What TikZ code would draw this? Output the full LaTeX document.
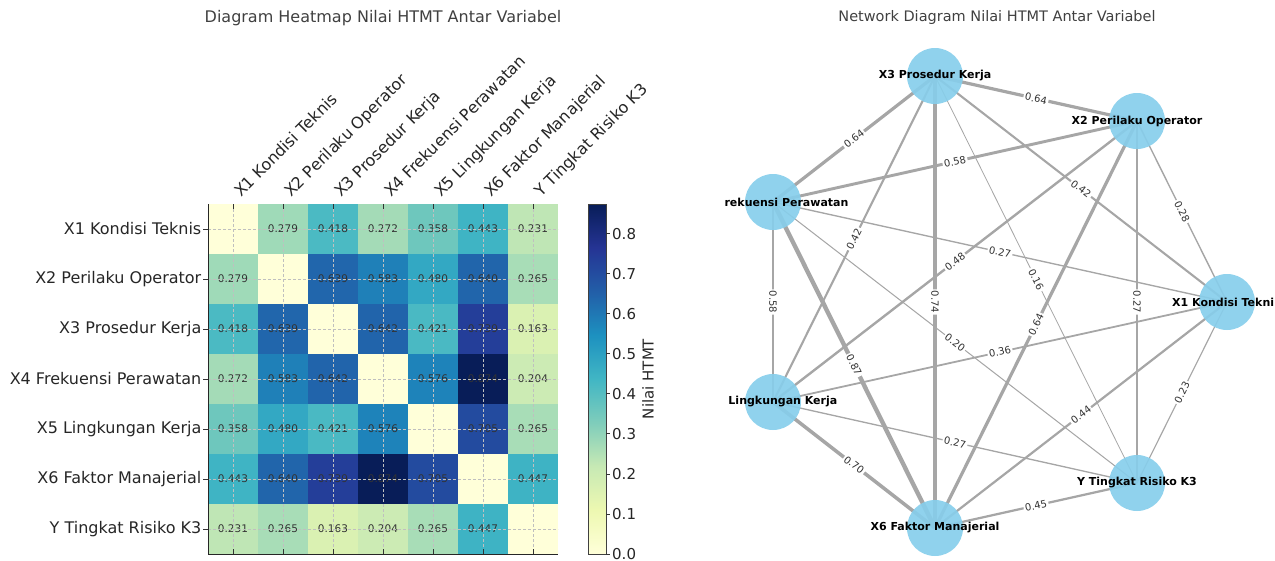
\documentclass[tikz,border=0pt]{standalone}
\usepackage{fontspec}
\setmainfont{DejaVu Sans}
\usepackage{xcolor}
\usetikzlibrary{positioning, backgrounds}

% YlGnBu colour scale
\definecolor{ylgnbu0}{HTML}{FFFFD9}
\definecolor{ylgnbu1}{HTML}{EDF8B1}
\definecolor{ylgnbu2}{HTML}{C7E9B4}
\definecolor{ylgnbu3}{HTML}{7FCDBB}
\definecolor{ylgnbu4}{HTML}{41B6C4}
\definecolor{ylgnbu5}{HTML}{1D91C0}
\definecolor{ylgnbu6}{HTML}{225EA8}
\definecolor{ylgnbu7}{HTML}{253494}
\definecolor{ylgnbu8}{HTML}{081D58}
\definecolor{nodeblue}{HTML}{87CEEB}

% value in [0, 0.874] -> colour "cellfill"
\newcommand\htmtcolor[1]{%
  \pgfmathsetmacro\cmpos{min(#1/0.874*8,7.999)}%
  \pgfmathtruncatemacro\cmlow{floor(\cmpos)}%
  \pgfmathtruncatemacro\cmhigh{\cmlow+1}%
  \pgfmathtruncatemacro\cmmix{round(100*(\cmpos-\cmlow))}%
  \colorlet{cellfill}{ylgnbu\cmhigh!\cmmix!ylgnbu\cmlow}}

\begin{document}
\begin{tikzpicture}[x=1pt, y=-1pt,
  plottitle/.style={font=\fontsize{16}{19}\selectfont, text=black!75},
  axislbl/.style={font=\fontsize{16}{19}\selectfont, text=black!85, inner sep=0pt},
  cellval/.style={font=\fontsize{10.5}{12}\selectfont, text=black!80},
  gridline/.style={gray!50, dash pattern=on 3pt off 2pt, line width=0.7pt},
  tickmark/.style={black!80, line width=0.8pt},
  cbarlbl/.style={font=\fontsize{15}{18}\selectfont, text=black!85, inner sep=0pt},
  htmtedge/.style={gray!70},
  edgelbl/.style={font=\fontsize{10}{12}\selectfont, text=black!80, fill=white,
    rounded corners=2pt, inner sep=1.5pt, midway, sloped},
  var/.style={circle, fill=nodeblue, fill opacity=0.92, minimum size=56pt, inner sep=0pt},
  varlbl/.style={font=\fontsize{11}{13}\selectfont\bfseries, text=black, inner sep=0pt}]
\useasboundingbox (0,0) rectangle (1275,560);

% heatmap
\node[plottitle] (hmtitle) at (383,18) {Diagram Heatmap Nilai HTMT Antar Variabel};
\foreach \rowvals [count=\r from 0] in {
  {0,0.279,0.418,0.272,0.358,0.443,0.231},
  {0.279,0,0.639,0.583,0.480,0.640,0.265},
  {0.418,0.639,0,0.642,0.421,0.739,0.163},
  {0.272,0.583,0.642,0,0.576,0.874,0.204},
  {0.358,0.480,0.421,0.576,0,0.705,0.265},
  {0.443,0.640,0.739,0.874,0.705,0,0.447},
  {0.231,0.265,0.163,0.204,0.265,0.447,0}} {
  \foreach \v [count=\c from 0] in \rowvals {
    \htmtcolor{\v}
    \fill[cellfill] (208+50*\c,204+50*\r) rectangle ++(50,50);
    \ifnum\r=\c\else
      \node[cellval] (val-\r-\c) at (233+50*\c,229+50*\r) {\v};
    \fi
  }
}
\foreach \i in {0,...,6} {
  \draw[gridline] (233+50*\i,204) -- (233+50*\i,554);
  \draw[gridline] (208,229+50*\i) -- (558,229+50*\i);
}
\foreach \name [count=\i from 0] in {X1 Kondisi Teknis, X2 Perilaku Operator,
    X3 Prosedur Kerja, X4 Frekuensi Perawatan, X5 Lingkungan Kerja,
    X6 Faktor Manajerial, Y Tingkat Risiko K3} {
  \draw[tickmark] (203,229+50*\i) -- (208,229+50*\i);
  \draw[tickmark] (233+50*\i,204) -- (233+50*\i,209);
  \draw[tickmark] (233+50*\i,549) -- (233+50*\i,554);
  \node[axislbl, anchor=east] (row-\i) at (201.5,229+50*\i) {\name};
  \node[axislbl, anchor=base west, rotate=45] (col-\i) at (241+50*\i,198) {\name};
}
\draw[black!85, line width=0.8pt] (208,204) -- (208,554) -- (558,554);

% colour bar
\foreach \k [evaluate=\k as \kn using int(\k+1)] in {0,...,7}
  \shade[bottom color=ylgnbu\k, top color=ylgnbu\kn]
    (588,554-43.75*\k) rectangle (606,554-43.75*\kn);
\draw[black!75, line width=1pt] (588,204) rectangle (606,554);
\foreach \t in {0,...,8} {
  \draw[tickmark] (606,554-40.046*\t) -- (610,554-40.046*\t);
  \node[cbarlbl, anchor=west] (cb-\t) at (612,554-40.046*\t) {0.\t};
}
\node[cbarlbl, rotate=90] (cbtitle) at (648,379) {Nilai HTMT};

% network
\node[plottitle, font=\fontsize{14.5}{17}\selectfont] (nettitle) at (997,17)
  {Network Diagram Nilai HTMT Antar Variabel};
\node[var] (X1) at (1227,302) {};
\node[var] (X2) at (1137,121) {};
\node[var] (X3) at (935,76) {};
\node[var] (X4) at (773,202) {};
\node[var] (X5) at (773,402) {};
\node[var] (X6) at (935,528) {};
\node[var] (Y) at (1137,483) {};

\begin{scope}[on background layer]
\foreach \a/\b/\w in {X1/X2/0.279, X1/X3/0.418, X1/X4/0.272, X1/X5/0.358,
    X1/X6/0.443, X1/Y/0.231, X2/X3/0.639, X2/X4/0.583, X2/X5/0.480,
    X2/X6/0.640, X2/Y/0.265, X3/X4/0.642, X3/X5/0.421, X3/X6/0.739,
    X3/Y/0.163, X4/X5/0.576, X4/X6/0.874, X4/Y/0.204, X5/X6/0.705,
    X5/Y/0.265, X6/Y/0.447}
  \draw[htmtedge, line width=\w*5pt] (\a.center) -- (\b.center);
\end{scope}

\foreach \a/\b/\t in {X1/X2/0.28, X1/X3/0.42, X1/X4/0.27, X1/X5/0.36,
    X1/X6/0.44, X1/Y/0.23, X2/X3/0.64, X2/X4/0.58, X2/X5/0.48,
    X2/X6/0.64, X2/Y/0.27, X3/X4/0.64, X3/X5/0.42, X3/X6/0.74,
    X3/Y/0.16, X4/X5/0.58, X4/X6/0.87, X4/Y/0.20, X5/X6/0.70,
    X5/Y/0.27, X6/Y/0.45}
  \path (\a.center) -- node[edgelbl] (lbl-\a-\b) {\t} (\b.center);

\node[varlbl, anchor=west] (X1lbl) at ([xshift=-55pt]X1.center) {X1 Kondisi Tekni};
\node[varlbl] (X2lbl) at (X2) {X2 Perilaku Operator};
\node[varlbl] (X3lbl) at (X3) {X3 Prosedur Kerja};
\node[varlbl, anchor=east] (X4lbl) at ([xshift=75.7pt]X4.center) {rekuensi Perawatan};
\node[varlbl, anchor=east] (X5lbl) at ([xshift=64.5pt]X5.center) {Lingkungan Kerja};
\node[varlbl] (X6lbl) at (X6) {X6 Faktor Manajerial};
\node[varlbl] (Ylbl) at (Y) {Y Tingkat Risiko K3};
\end{tikzpicture}
\end{document}
